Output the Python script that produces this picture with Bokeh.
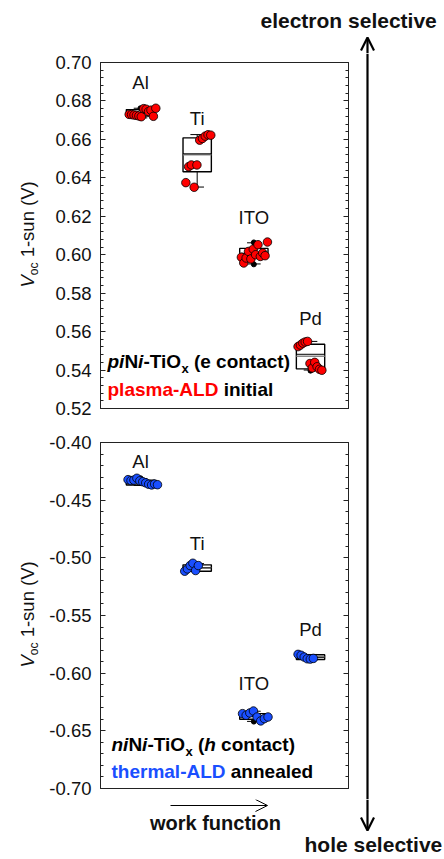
import numpy as np
from bokeh.plotting import figure
from bokeh.models import (Range1d, LinearAxis, FixedTicker, NumeralTickFormatter,
                          CustomJSTickFormatter, Label, Arrow, OpenHead)
from bokeh.core.properties import value
from bokeh.layouts import column, row
from bokeh.embed import file_html
from bokeh.resources import INLINE

# ---------------- data ----------------
categories = ["Al", "Ti", "ITO", "Pd"]
cat_pos = [1, 2, 3, 4]

# top panel: piNi-TiOx (e contact), plasma-ALD initial  (Voc, V)
top_al = [0.6730, 0.6729, 0.6727, 0.6725, 0.6722, 0.6718, 0.6760, 0.6757, 0.6745, 0.6752, 0.6720, 0.6762]
top_ti = [0.6375, 0.6458, 0.6467, 0.6351, 0.6467, 0.6596, 0.6605, 0.6617, 0.6624, 0.6622]
top_ito = [0.5987, 0.5957, 0.5983, 0.6017, 0.5978, 0.6029, 0.6000, 0.6052, 0.5991, 0.6009, 0.5995, 0.6066]
top_pd = [0.5522, 0.5530, 0.5540, 0.5546, 0.5549, 0.5434, 0.5411, 0.5440, 0.5417, 0.5404, 0.5399]
top_q1 = [0.6722, 0.6432, 0.5985, 0.5406]
top_med = [0.6735, 0.6525, 0.6005, 0.5482]
top_mean = [0.6737, 0.6520, 0.6008, 0.5472]
top_q3 = [0.6755, 0.6608, 0.6033, 0.5534]
top_wlo = [0.6712, 0.6352, 0.5952, 0.5400]
top_whi = [0.6762, 0.6625, 0.6062, 0.5549]
top_out_cat = [1, 1, 3, 3, 4]
top_out_val = [0.6762, 0.6712, 0.6064, 0.5950, 0.5397]

# bottom panel: niNi-TiOx (h contact), thermal-ALD annealed  (Voc, V)
bot_al = [-0.4322, -0.4330, -0.4326, -0.4310, -0.4332, -0.4340, -0.4350, -0.4362, -0.4368, -0.4360, -0.4366]
bot_ti = [-0.5116, -0.5096, -0.5067, -0.5047, -0.5110, -0.5067]
bot_ito = [-0.6351, -0.6365, -0.6345, -0.6328, -0.6380, -0.6414, -0.6394, -0.6380]
bot_pd = [-0.5837, -0.5845, -0.5860, -0.5875, -0.5878, -0.5872]
bot_q1 = [-0.4369, -0.5116, -0.6400, -0.5881]
bot_med = [-0.4345, -0.5088, -0.6375, -0.5862]
bot_mean = [-0.4345, -0.5085, -0.6373, -0.5860]
bot_q3 = [-0.4326, -0.5061, -0.6351, -0.5840]
bot_wlo = [-0.4372, -0.5118, -0.6418, -0.5884]
bot_whi = [-0.4312, -0.5050, -0.6330, -0.5838]
bot_out_cat = [1, 3, 3]
bot_out_val = [-0.4310, -0.6326, -0.6420]

top_ticks = [0.52, 0.54, 0.56, 0.58, 0.60, 0.62, 0.64, 0.66, 0.68, 0.70]
bot_ticks = [-0.70, -0.65, -0.60, -0.55, -0.50, -0.45, -0.40]

# category label positions (value axis)
top_label_y = [0.6898, 0.6710, 0.6195, 0.5670]
bot_label_y = [-0.4165, -0.4876, -0.6090, -0.5622]

# ---------------- style / layout (page pixels) ----------------
FONT = "Liberation Sans"
RED = "#ff0000"
BLUE = "#1a4fff"
TXT = "#111111"
PAGE_W = 444
HEAD_H = 53                 # header strip: y 0..53
YLAB_W = 40                 # y-label strip: x 0..40
PANEL_W = 310               # panels: x 40..350
ARROW_W = PAGE_W - YLAB_W - PANEL_W
FL, FR = 60, 2
FRAME_L, FRAME_W, FH = 100, 248, 346
XR = (0.294, 4.67)
TOP_YR = (0.52, 0.70)
BOT_YR = (-0.70, -0.40)
TOP_B = (9, 17)             # top panel y 53..425, frame 62..408
BOT_B = (17, 11)            # bottom panel y 425..799, frame 442..788
TOP_FRAME_Y = 62
BOT_FRAME_Y = 442
MID_H = TOP_B[0] + FH + TOP_B[1] + BOT_B[0] + FH + BOT_B[1]
FOOT_Y = HEAD_H + MID_H
FOOT_H = 858 - FOOT_Y
BASE_K = 0.31               # correction of the label baseline, fraction of font size

BOLD = {' ': 278, '(': 333, ')': 333, '-': 333, 'A': 722, 'D': 722, 'L': 611, 'N': 722, 'O': 778,
        'T': 611, 'a': 556, 'c': 556, 'd': 611, 'e': 556, 'f': 333, 'h': 611, 'i': 278, 'k': 556,
        'l': 278, 'm': 889, 'n': 611, 'o': 611, 'p': 611, 'r': 389, 's': 556, 't': 333, 'u': 611,
        'v': 556, 'w': 778, 'x': 556}
REG = {' ': 278, '(': 333, ')': 333, '-': 333, '1': 556, 'V': 667, 'c': 500, 'n': 556, 'o': 556,
       's': 500, 'u': 556}


def tw(text, size, bold=True):
    d = BOLD if bold else REG
    return sum(d.get(ch, 556) for ch in text) * size / 1000.0


def panel_data(yr, frame_top, px, py):
    x = XR[0] + (px - FRAME_L) / FRAME_W * (XR[1] - XR[0])
    y = yr[1] - (py - frame_top) / FH * (yr[1] - yr[0])
    return x, y


def label(x, y, text, size, style="bold", color=TXT, align="left", x_off=0.0, y_off=0.0):
    return Label(x=x, y=y, x_offset=x_off, y_offset=y_off + BASE_K * size, text=text,
                 text_font=FONT, text_font_style=style, text_font_size=f"{size}px",
                 text_color=color, text_align=align, text_baseline="alphabetic")


def decor_fig(w, h):
    p = figure(width=w, height=h, output_backend="svg", toolbar_location=None,
               x_range=Range1d(0, w), y_range=Range1d(0, h), x_axis_type=None, y_axis_type=None,
               min_border=0, min_border_left=0, min_border_right=0, min_border_top=0,
               min_border_bottom=0)
    p.outline_line_color = None
    p.background_fill_color = "white"
    p.border_fill_color = "white"
    return p


def make_panel(yr, borders, ticks, minor_step):
    p = figure(width=PANEL_W, height=borders[0] + FH + borders[1], output_backend="svg",
               toolbar_location=None, x_range=Range1d(*XR), y_range=Range1d(*yr),
               min_border_left=FL, min_border_right=FR, min_border_top=borders[0],
               min_border_bottom=borders[1], x_axis_type=None, y_axis_type=None)
    p.outline_line_color = "#222222"
    p.outline_line_width = 1
    p.background_fill_color = "white"
    p.border_fill_color = "white"
    minor = list(np.round(np.arange(yr[0], yr[1] + 1e-9, minor_step), 4))
    for side in ("left", "right"):
        ax = LinearAxis(ticker=FixedTicker(ticks=ticks, minor_ticks=minor))
        ax.major_tick_in = 5
        ax.major_tick_out = 0
        ax.minor_tick_in = 3
        ax.minor_tick_out = 0
        ax.axis_line_color = "#222222"
        ax.major_tick_line_color = "#222222"
        ax.minor_tick_line_color = "#222222"
        if side == "left":
            ax.formatter = NumeralTickFormatter(format="0.00")
            ax.major_label_text_font = FONT
            ax.major_label_text_font_size = "18.5px"
            ax.major_label_text_color = TXT
            ax.major_label_standoff = 9
        else:
            ax.formatter = CustomJSTickFormatter(code="return ''")
            ax.major_label_standoff = 0
        p.add_layout(ax, side)
    return p


def draw_panel(p, groups, q1, med, mean, q3, wlo, whi, out_cat, out_val, color, label_y, spans):
    hw = 0.25
    cw = 0.12
    p.segment(x0=cat_pos, y0=wlo, x1=cat_pos, y1=q1, line_color="black", line_width=1)
    p.segment(x0=cat_pos, y0=q3, x1=cat_pos, y1=whi, line_color="black", line_width=1)
    p.segment(x0=[c - cw for c in cat_pos], y0=wlo, x1=[c + cw for c in cat_pos], y1=wlo,
              line_color="black", line_width=1)
    p.segment(x0=[c - cw for c in cat_pos], y0=whi, x1=[c + cw for c in cat_pos], y1=whi,
              line_color="black", line_width=1)
    p.quad(left=[c - hw for c in cat_pos], right=[c + hw for c in cat_pos], bottom=q1, top=q3,
           fill_color="white", line_color="black", line_width=1.4)
    p.segment(x0=[c - hw for c in cat_pos], y0=mean, x1=[c + hw for c in cat_pos], y1=mean,
              line_color="#888888", line_width=1.4)
    p.segment(x0=[c - hw for c in cat_pos], y0=med, x1=[c + hw for c in cat_pos], y1=med,
              line_color="black", line_width=1)
    p.scatter(x=out_cat, y=out_val, size=5, fill_color="black", line_color="black")
    for c, vals, (j0, j1) in zip(cat_pos, groups, spans):
        xs = c + np.linspace(j0, j1, len(vals))
        p.scatter(x=xs, y=vals, size=8.5, fill_color=color, line_color="black", line_width=0.8)
    p.text(x=cat_pos, y=label_y, text=categories, text_font=value(FONT),
           text_font_size="18.5px", text_align="center", text_baseline="middle",
           text_color=TXT)


def seg_labels(p, yr, frame_top, px, py, segs):
    x, y = panel_data(yr, frame_top, px, py)
    off = 0.0
    for text, style, size, dy, color, lead in segs:
        if lead:
            off += tw(" ", 19)
        p.add_layout(label(x, y, text, size, style, color, x_off=off, y_off=dy))
        off += tw(text, size)


# ---------------- top panel ----------------
top = make_panel(TOP_YR, TOP_B, top_ticks, 0.004)
draw_panel(top, [top_al, top_ti, top_ito, top_pd], top_q1, top_med, top_mean, top_q3,
           top_wlo, top_whi, top_out_cat, top_out_val, RED, top_label_y,
           [(-0.2, 0.27), (-0.2, 0.24), (-0.22, 0.24), (-0.22, 0.2)])
seg_labels(top, TOP_YR, TOP_FRAME_Y, 107, 367, [
    ("pi", "bold italic", 19, 0, "black", False),
    ("N", "bold", 19, 0, "black", False),
    ("i", "bold italic", 19, 0, "black", False),
    ("-TiO", "bold", 19, 0, "black", False),
    ("x", "bold", 13, -5, "black", False),
    ("(e contact)", "bold", 19, 0, "black", True),
])
seg_labels(top, TOP_YR, TOP_FRAME_Y, 107, 395, [
    ("plasma-ALD", "bold", 19, 0, RED, False),
    ("initial", "bold", 19, 0, "black", True),
])

# ---------------- bottom panel ----------------
bot = make_panel(BOT_YR, BOT_B, bot_ticks, 0.01)
draw_panel(bot, [bot_al, bot_ti, bot_ito, bot_pd], bot_q1, bot_med, bot_mean, bot_q3,
           bot_wlo, bot_whi, bot_out_cat, bot_out_val, BLUE, bot_label_y,
           [(-0.22, 0.3), (-0.22, 0.02), (-0.2, 0.25), (-0.22, 0.05)])
seg_labels(bot, BOT_YR, BOT_FRAME_Y, 111, 750, [
    ("ni", "bold italic", 19, 0, "black", False),
    ("N", "bold", 19, 0, "black", False),
    ("i", "bold italic", 19, 0, "black", False),
    ("-TiO", "bold", 19, 0, "black", False),
    ("x", "bold", 13, -5, "black", False),
    ("(", "bold", 19, 0, "black", True),
    ("h", "bold italic", 19, 0, "black", False),
    ("contact)", "bold", 19, 0, "black", True),
])
seg_labels(bot, BOT_YR, BOT_FRAME_Y, 111, 777, [
    ("thermal-ALD", "bold", 19, 0, BLUE, False),
    ("annealed", "bold", 19, 0, "black", True),
])

# ---------------- y-axis label strip ----------------
ylab = decor_fig(YLAB_W, MID_H)


def ylabel(p, px, py):
    x, y = px, MID_H - (py - HEAD_H)
    wv = 667 * 18.5 / 1000
    woc = tw("oc", 12, False)
    common = dict(x=x, y=y, text_font=FONT, angle=np.pi / 2, text_align="left",
                  text_baseline="alphabetic", text_color=TXT)
    p.add_layout(Label(text="V", text_font_style="italic", text_font_size="18.5px",
                       x_offset=-BASE_K * 18.5, **common))
    p.add_layout(Label(text="oc", text_font_size="12px", y_offset=wv,
                       x_offset=4 - BASE_K * 12, **common))
    p.add_layout(Label(text="1-sun (V)", text_font_size="18.5px", x_offset=-BASE_K * 18.5,
                       y_offset=wv + woc + tw(" ", 18.5, False), **common))


ylabel(ylab, 33, 287)
ylabel(ylab, 33, 667)

# ---------------- header, right arrow strip, footer ----------------
ARROW_X = 367
header = decor_fig(PAGE_W, HEAD_H)
header.add_layout(label(260, HEAD_H - 27, "electron selective", 21))
header.add_layout(Arrow(x_start=ARROW_X, y_start=0, x_end=ARROW_X, y_end=HEAD_H - 37,
                        line_width=2.2, line_color="black",
                        end=OpenHead(size=13, line_width=2.2, line_color="black")))

rstrip = decor_fig(ARROW_W, MID_H)
rstrip.segment(x0=[ARROW_X - YLAB_W - PANEL_W], y0=[0], x1=[ARROW_X - YLAB_W - PANEL_W],
               y1=[MID_H], line_width=2.2, line_color="black")

footer = decor_fig(PAGE_W, FOOT_H)
footer.add_layout(Arrow(x_start=ARROW_X, y_start=FOOT_H, x_end=ARROW_X,
                        y_end=FOOT_H - (830 - FOOT_Y), line_width=2.2, line_color="black",
                        end=OpenHead(size=13, line_width=2.2, line_color="black")))
footer.add_layout(Arrow(x_start=170, y_start=FOOT_H - (805 - FOOT_Y), x_end=267,
                        y_end=FOOT_H - (805 - FOOT_Y), line_width=1, line_color="black",
                        end=OpenHead(size=12, line_width=1, line_color="black")))
footer.add_layout(label(215, FOOT_H - (829 - FOOT_Y), "work function", 20, align="center"))
footer.add_layout(label(304, FOOT_H - (851 - FOOT_Y), "hole selective", 21))

layout = column(header, row(ylab, column(top, bot, spacing=0), rstrip, spacing=0), footer,
                spacing=0)
open("out.html", "w").write(file_html(layout, INLINE))
